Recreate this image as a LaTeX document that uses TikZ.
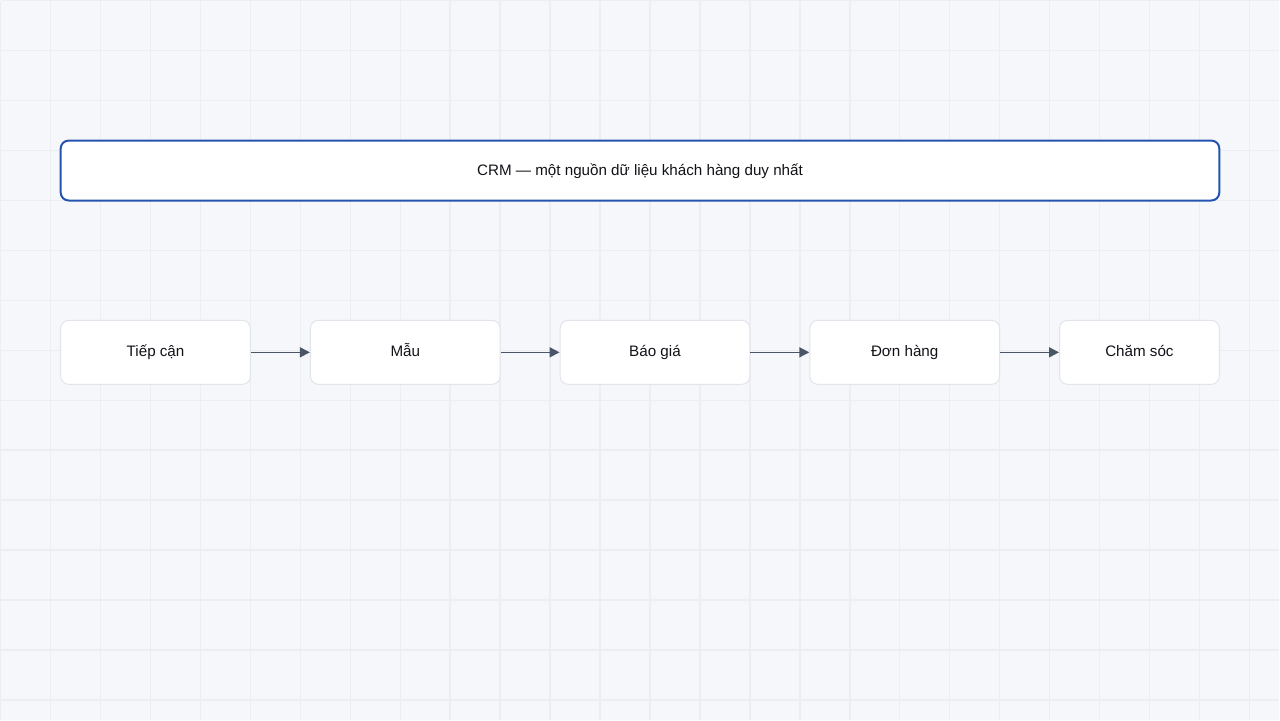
\documentclass[tikz,border=0pt]{standalone}
\usepackage{fontspec}
\setmainfont{Liberation Sans}
\usetikzlibrary{arrows.meta}

\definecolor{bgfill}{HTML}{F6F7FB}
\definecolor{gridline}{HTML}{ECEEF2}
\definecolor{crmblue}{HTML}{2554B0}
\definecolor{boxline}{HTML}{E1E5EB}
\definecolor{arrowgrey}{HTML}{4A5568}
\definecolor{textdark}{HTML}{111318}

\begin{document}
\begin{tikzpicture}[%
        x = 0.5pt, y = -0.5pt,
        crmbox/.style = {%
            draw = crmblue, line width = 1pt, fill = white,
            rounded corners = 4pt, minimum width = 580pt,
            minimum height = 30pt, text = textdark,
            text height = 6pt, text depth = 1.5pt,
            font = \fontsize{7.6}{9}\selectfont
        },
        stagebox/.style = {%
            draw = boxline, line width = 0.5pt, fill = white,
            rounded corners = 4pt, minimum width = 95pt,
            minimum height = 32pt, text = textdark,
            text height = 6pt, text depth = 1.5pt,
            font = \fontsize{7.6}{9}\selectfont
        },
        flow/.style = {%
            draw = arrowgrey, line width = 0.8pt,
            -{Triangle[length = 5pt, width = 5pt]}
        }
    ]

        % Background and grid.
        \fill[bgfill] (0,0) rectangle (1280,720);
        \foreach\g in {0, 50, ..., 1250}{%
            \draw[gridline, line width = 0.75pt] (\g,0) -- (\g,720);
        }
        \foreach\g in {0, 50, ..., 700}{%
            \draw[gridline, line width = 0.75pt] (0,\g) -- (1280,\g);
        }
        \useasboundingbox (0,0) rectangle (1280,720);

        % The single customer data source.
        \node[crmbox] (crm) at (640,170) {CRM — một nguồn dữ liệu khách hàng duy nhất};

        % The sales stages.
        \node[stagebox] (tiepcan) at (155,352) {Tiếp cận};
        \node[stagebox] (mau) at (405,352) {Mẫu};
        \node[stagebox] (baogia) at (655,352) {Báo giá};
        \node[stagebox] (donhang) at (905,352) {Đơn hàng};
        \node[stagebox, minimum width = 80pt] (chamsoc) at (1140,352) {Chăm sóc};

        % Arrows between the stages.
        \draw[flow] (tiepcan) to (mau);
        \draw[flow] (mau) to (baogia);
        \draw[flow] (baogia) to (donhang);
        \draw[flow] (donhang) to (chamsoc);
    \end{tikzpicture}
\end{document}
